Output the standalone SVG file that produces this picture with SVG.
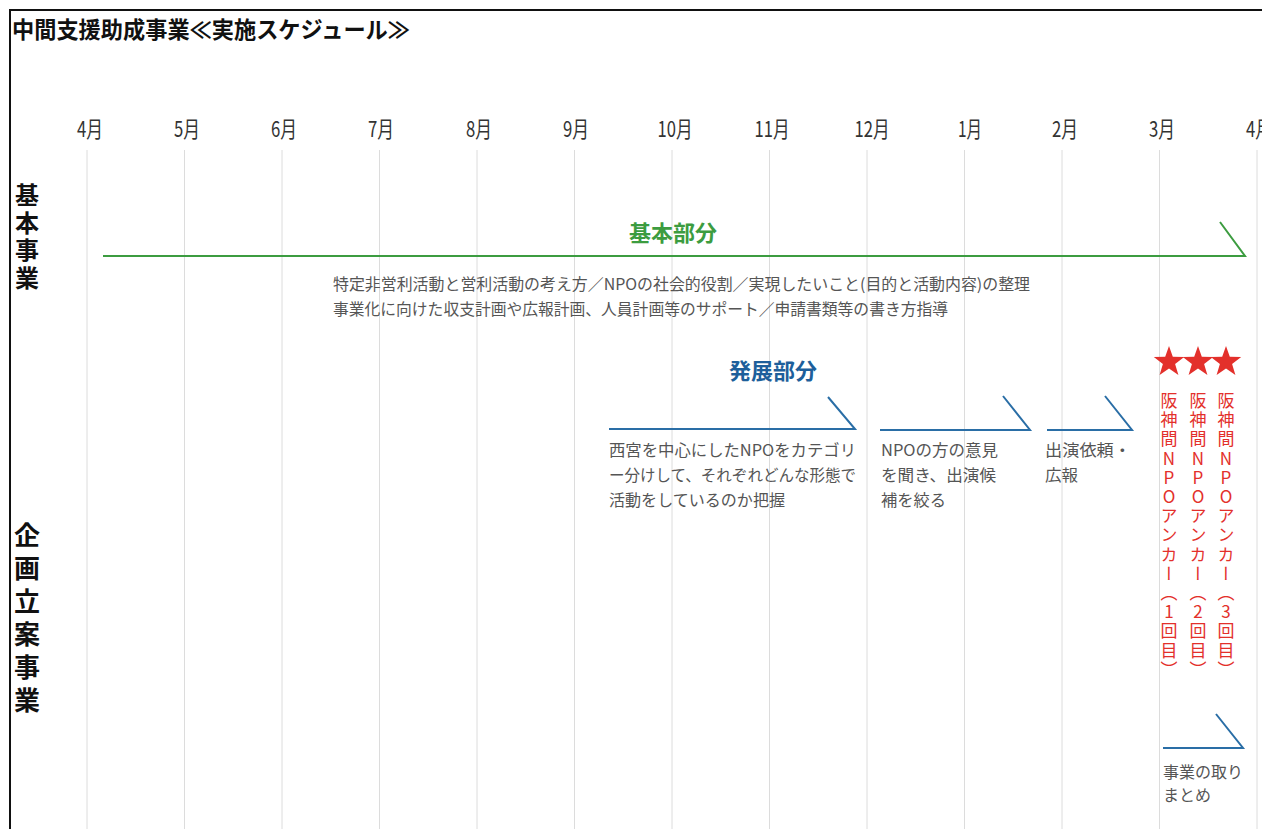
<svg xmlns="http://www.w3.org/2000/svg" width="1262" height="829" viewBox="0 0 1262 829">
<style>
text{font-family:"Noto Sans CJK JP","Noto Sans",sans-serif}
.grid{stroke:#dcdcdc;stroke-width:1}
.mon{font-size:22px;fill:#333;text-anchor:middle}
.side{font-size:24px;font-weight:700;fill:#111;writing-mode:vertical-rl}
.desc{font-size:16px;fill:#555}
.g{stroke:#3c9c40;stroke-width:2;fill:none}
.b{stroke:#2a6ea6;stroke-width:2;fill:none}
.red{font-size:17px;fill:#e3302b;writing-mode:vertical-rl;text-orientation:upright;letter-spacing:2.2px}
.star{fill:#e3302b}
</style>
<defs>
<polygon id="star" points="0,-16 3.8,-5.2 15.2,-4.9 6.1,2 9.4,12.9 0,6.4 -9.4,12.9 -6.1,2 -15.2,-4.9 -3.8,-5.2"/>
</defs>
<rect width="1262" height="829" fill="#fff"/>
<path d="M10,829 V10 H1262" stroke="#111" stroke-width="2" fill="none"/>
<text x="12" y="38" font-size="23" font-weight="700" fill="#111" textLength="398" lengthAdjust="spacingAndGlyphs">中間支援助成事業≪実施スケジュール≫</text>

<g id="grid">
<line class="grid" x1="87" y1="150" x2="87" y2="829"/>
<line class="grid" x1="184.5" y1="150" x2="184.5" y2="829"/>
<line class="grid" x1="282" y1="150" x2="282" y2="829"/>
<line class="grid" x1="379.5" y1="150" x2="379.5" y2="829"/>
<line class="grid" x1="477" y1="150" x2="477" y2="829"/>
<line class="grid" x1="574.5" y1="150" x2="574.5" y2="829"/>
<line class="grid" x1="672" y1="150" x2="672" y2="829"/>
<line class="grid" x1="769.5" y1="150" x2="769.5" y2="829"/>
<line class="grid" x1="867" y1="150" x2="867" y2="829"/>
<line class="grid" x1="964.5" y1="150" x2="964.5" y2="829"/>
<line class="grid" x1="1062" y1="150" x2="1062" y2="829"/>
<line class="grid" x1="1159.5" y1="150" x2="1159.5" y2="829"/>
<line class="grid" x1="1257" y1="150" x2="1257" y2="829"/>
</g>

<g id="months">
<text class="mon" x="90" y="137" textLength="26" lengthAdjust="spacingAndGlyphs">4月</text>
<text class="mon" x="187" y="137" textLength="26" lengthAdjust="spacingAndGlyphs">5月</text>
<text class="mon" x="284" y="137" textLength="26" lengthAdjust="spacingAndGlyphs">6月</text>
<text class="mon" x="381" y="137" textLength="26" lengthAdjust="spacingAndGlyphs">7月</text>
<text class="mon" x="479" y="137" textLength="26" lengthAdjust="spacingAndGlyphs">8月</text>
<text class="mon" x="576" y="137" textLength="26" lengthAdjust="spacingAndGlyphs">9月</text>
<text class="mon" x="675" y="137" textLength="35" lengthAdjust="spacingAndGlyphs">10月</text>
<text class="mon" x="772" y="137" textLength="35" lengthAdjust="spacingAndGlyphs">11月</text>
<text class="mon" x="872" y="137" textLength="35" lengthAdjust="spacingAndGlyphs">12月</text>
<text class="mon" x="970" y="137" textLength="24" lengthAdjust="spacingAndGlyphs">1月</text>
<text class="mon" x="1065" y="137" textLength="26" lengthAdjust="spacingAndGlyphs">2月</text>
<text class="mon" x="1162" y="137" textLength="26" lengthAdjust="spacingAndGlyphs">3月</text>
<text class="mon" x="1259" y="137" textLength="26" lengthAdjust="spacingAndGlyphs">4月</text>
</g>

<g id="side-kihon"><text class="side" x="27" y="183" style="letter-spacing:3.5px">基本事業</text></g>
<g id="side-kikaku"><text class="side" x="27" y="522" style="font-size:26px;letter-spacing:7px">企画立案事業</text></g>

<g id="kihon">
<text x="673" y="241" font-size="22" font-weight="700" fill="#3c9c40" text-anchor="middle">基本部分</text>
<text class="desc" x="333" y="290" textLength="697" lengthAdjust="spacingAndGlyphs">特定非営利活動と営利活動の考え方／NPOの社会的役割／実現したいこと(目的と活動内容)の整理</text>
<text class="desc" x="333" y="315" textLength="615" lengthAdjust="spacingAndGlyphs">事業化に向けた収支計画や広報計画、人員計画等のサポート／申請書類等の書き方指導</text>
</g>

<g id="hatten-label">
<text x="773" y="379" font-size="22" font-weight="700" fill="#1d5f9b" text-anchor="middle">発展部分</text>
</g>

<g id="task1">
<text class="desc" x="609" y="456" textLength="247" lengthAdjust="spacingAndGlyphs">西宮を中心にしたNPOをカテゴリ</text>
<text class="desc" x="609" y="481" textLength="247" lengthAdjust="spacingAndGlyphs">ー分けして、それぞれどんな形態で</text>
<text class="desc" x="609" y="506" textLength="176" lengthAdjust="spacingAndGlyphs">活動をしているのか把握</text>
</g>
<g id="task2">
<text class="desc" x="881" y="456" textLength="117" lengthAdjust="spacingAndGlyphs">NPOの方の意見</text>
<text class="desc" x="881" y="481" textLength="115" lengthAdjust="spacingAndGlyphs">を聞き、出演候</text>
<text class="desc" x="881" y="506" textLength="65" lengthAdjust="spacingAndGlyphs">補を絞る</text>
</g>
<g id="task3">
<text class="desc" x="1045" y="456" textLength="86" lengthAdjust="spacingAndGlyphs">出演依頼・</text>
<text class="desc" x="1045" y="481" textLength="33" lengthAdjust="spacingAndGlyphs">広報</text>
</g>

<g id="anchors">
<use href="#star" class="star" x="1169" y="362"/>
<use href="#star" class="star" x="1198" y="362"/>
<use href="#star" class="star" x="1226" y="362"/>
<text class="red" x="1169" y="392">阪神間NPOアンカー（1回目）</text>
<text class="red" x="1198" y="392">阪神間NPOアンカー（2回目）</text>
<text class="red" x="1226" y="392">阪神間NPOアンカー（3回目）</text>
</g>

<g id="task4">
<text class="desc" x="1163" y="778" textLength="80" lengthAdjust="spacingAndGlyphs">事業の取り</text>
<text class="desc" x="1163" y="801" textLength="48" lengthAdjust="spacingAndGlyphs">まとめ</text>
</g>

<g id="connectors">
<polyline class="g" points="103,256 1245,256 1220,222"/>
<polyline class="b" points="609,429 855,429 828,397"/>
<polyline class="b" points="880,430 1030,430 1003,396"/>
<polyline class="b" points="1047,430 1132,430 1105,396"/>
<polyline class="b" points="1163,748 1243,748 1216,714"/>
</g>
</svg>
